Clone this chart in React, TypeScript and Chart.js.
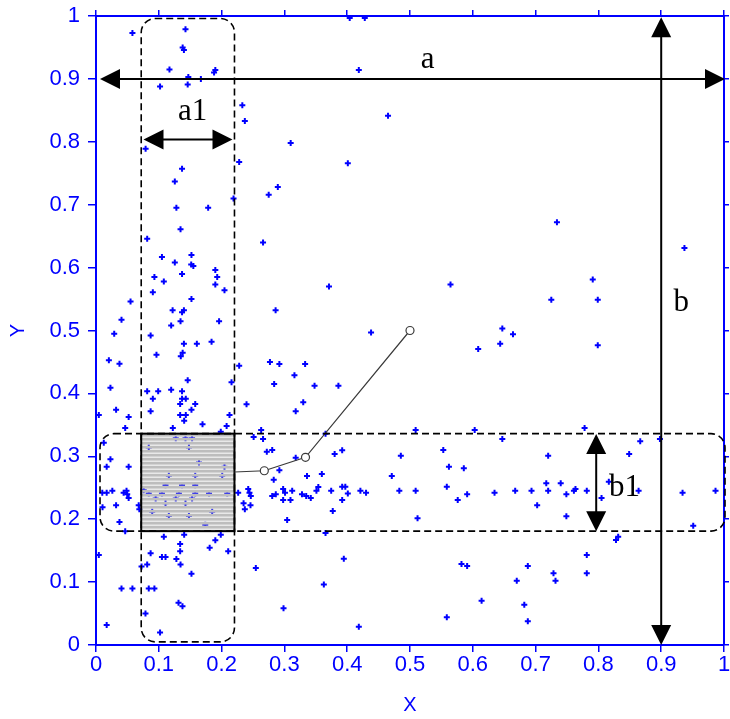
import React, { useEffect, useRef } from 'react';
import { Chart, registerables } from 'chart.js';

Chart.register(...registerables);

// ---- data ----
const pointX = [
  0.058, 0.1425, 0.138, 0.140, 0.117, 0.147, 0.167, 0.188, 0.190, 0.102, 0.146, 0.233, 0.237, 0.310, 0.079, 0.228,
  0.137, 0.1255, 0.2895, 0.275, 0.219, 0.128, 0.1786, 0.1346, 0.0815, 0.266, 0.371, 0.105, 0.152, 0.1255, 0.1516, 0.155,
  0.137, 0.190, 0.193, 0.093, 0.108, 0.190, 0.2046, 0.0905, 0.055, 0.152, 0.122, 0.137, 0.140, 0.286, 0.0406, 0.1346,
  0.1197, 0.196, 0.029, 0.087, 0.404, 0.428,
  0.4185, 0.465, 0.401, 0.734, 0.937, 0.791, 0.725, 0.799, 0.5645, 0.647, 0.438,
  0.6436, 0.664, 0.6086, 0.799, 0.386, 0.509, 0.603, 0.778, 0.647, 0.898, 0.8666, 0.380, 0.392, 0.4854, 0.553, 0.720,
  0.849, 0.562, 0.5857, 0.471, 0.3745, 0.392, 0.397, 0.401, 0.392, 0.421, 0.430, 0.483, 0.509, 0.5586, 0.576, 0.591,
  0.6346, 0.6675, 0.6935, 0.7025, 0.717, 0.720, 0.740, 0.749, 0.761, 0.7635, 0.7815, 0.749, 0.805, 0.8166, 0.864, 0.934,
  0.9865, 0.951, 0.512, 0.377, 0.828, 0.8315, 0.3946, 0.582, 0.591, 0.6876, 0.7815, 0.7285, 0.7317, 0.7815, 0.670, 0.614,
  0.682, 0.6876, 0.5586, 0.4185,
  0.140, 0.1606, 0.184, 0.138, 0.135, 0.0963, 0.0205, 0.0374, 0.228, 0.277, 0.292, 0.333, 0.316, 0.2837, 0.348, 0.146,
  0.2158, 0.023, 0.0815, 0.099, 0.1197, 0.137, 0.0905, 0.137, 0.143, 0.134, 0.158, 0.087, 0.152, 0.032, 0.0045, 0.052,
  0.134, 0.143, 0.1404, 0.2126, 0.330, 0.318, 0.1696, 0.208, 0.1223, 0.0465, 0.1987, 0.263, 0.251, 0.266, 0.3655, 0.272,
  0.2806, 0.0124, 0.023, 0.017, 0.052, 0.318, 0.292, 0.336, 0.3596, 0.283, 0.010, 0.017, 0.026, 0.044, 0.0486, 0.0497,
  0.052, 0.0104, 0.032, 0.068, 0.069, 0.0374, 0.0465, 0.2264, 0.2424, 0.2444, 0.2465, 0.235, 0.246, 0.237, 0.2806, 0.2863,
  0.298, 0.301, 0.3124, 0.298, 0.3097, 0.328, 0.3347, 0.342, 0.351, 0.354, 0.3655, 0.3044, 0.1404, 0.108, 0.190, 0.1987,
  0.134, 0.181, 0.134, 0.2105, 0.087, 0.105, 0.1107, 0.128, 0.1346, 0.0815, 0.0725, 0.0045, 0.2545, 0.152, 0.0406, 0.058,
  0.084, 0.093, 0.3628, 0.1314, 0.1377, 0.0788, 0.2986, 0.017, 0.102, 0.2397,
  0.127, 0.1425, 0.153, 0.084, 0.148, 0.2046, 0.164, 0.116, 0.158, 0.201, 0.1107, 0.137, 0.158, 0.084, 0.105, 0.132,
  0.158, 0.180, 0.209, 0.095, 0.127, 0.153, 0.1107, 0.1425, 0.0895, 0.185, 0.116, 0.148, 0.174, 0.076,
];
const pointY = [
  0.973, 0.979, 0.950, 0.946, 0.915, 0.903, 0.900, 0.910, 0.914, 0.888, 0.891, 0.858, 0.833, 0.798, 0.789, 0.768,
  0.757, 0.737, 0.728, 0.716, 0.710, 0.695, 0.695, 0.661, 0.646, 0.640, 0.570, 0.617, 0.620, 0.608, 0.605, 0.6026,
  0.590, 0.596, 0.585, 0.585, 0.578, 0.573, 0.564, 0.561, 0.546, 0.550, 0.532, 0.529, 0.532, 0.532, 0.517, 0.5146,
  0.508, 0.5146, 0.495, 0.492, 0.997, 0.997,
  0.914, 0.8415, 0.766, 0.672, 0.631, 0.581, 0.549, 0.549, 0.573, 0.503, 0.497,
  0.479, 0.494, 0.4706, 0.4765, 0.412, 0.342, 0.342, 0.345, 0.3275, 0.3275, 0.324, 0.3036, 0.3095, 0.301, 0.310, 0.301,
  0.3036, 0.2835, 0.281, 0.2687, 0.2453, 0.2517, 0.2517, 0.241, 0.2305, 0.2453, 0.242, 0.2453, 0.2453, 0.2517, 0.2305, 0.2396,
  0.242, 0.2453, 0.2453, 0.222, 0.257, 0.2453, 0.257, 0.2396, 0.2453, 0.248, 0.2453, 0.2046, 0.2337, 0.2596, 0.2453, 0.242,
  0.2453, 0.1897, 0.2014, 0.213, 0.167, 0.172, 0.137, 0.1288, 0.1256, 0.1256, 0.143, 0.114, 0.102, 0.114, 0.102, 0.0705,
  0.064, 0.0376, 0.044, 0.029,
  0.479, 0.479, 0.482, 0.4647, 0.459, 0.4615, 0.4526, 0.447, 0.444, 0.450, 0.4467, 0.4467, 0.429, 0.415, 0.412, 0.4208,
  0.4176, 0.409, 0.4033, 0.4033, 0.406, 0.4033, 0.3916, 0.3916, 0.3916, 0.383, 0.383, 0.3715, 0.374, 0.374, 0.3657, 0.3625,
  0.3657, 0.3657, 0.3566, 0.3657, 0.386, 0.3715, 0.351, 0.348, 0.345, 0.345, 0.339, 0.342, 0.3307, 0.3275, 0.336, 0.3073,
  0.310, 0.3216, 0.2952, 0.2835, 0.2835, 0.2978, 0.2777, 0.2687, 0.2719, 0.2628, 0.242, 0.242, 0.2453, 0.242, 0.2453, 0.2396,
  0.2337, 0.219, 0.222, 0.222, 0.216, 0.1955, 0.181, 0.242, 0.248, 0.242, 0.2369, 0.2253, 0.222, 0.216, 0.2369, 0.2396,
  0.248, 0.242, 0.2453, 0.2305, 0.2305, 0.2396, 0.2369, 0.2337, 0.2453, 0.251, 0.178, 0.1987, 0.1753, 0.172, 0.1665, 0.1753,
  0.1606, 0.1547, 0.149, 0.149, 0.1458, 0.140, 0.140, 0.1367, 0.128, 0.128, 0.125, 0.143, 0.1224, 0.1134, 0.090, 0.090,
  0.090, 0.090, 0.096, 0.0673, 0.0615, 0.050, 0.0583, 0.0318, 0.020, 0.3827,
  0.3286, 0.3286, 0.3286, 0.314, 0.314, 0.2835, 0.290, 0.269, 0.269, 0.269, 0.254, 0.254, 0.254, 0.241, 0.241, 0.241,
  0.241, 0.241, 0.241, 0.233, 0.233, 0.233, 0.2253, 0.2253, 0.212, 0.212, 0.205, 0.205, 0.191, 0.246,
];

const tickValues = [0, 0.1, 0.2, 0.3, 0.4, 0.5, 0.6, 0.7, 0.8, 0.9, 1];
const tickLabels = ['0', '0.1', '0.2', '0.3', '0.4', '0.5', '0.6', '0.7', '0.8', '0.9', '1'];

// path of the moving centre (box edge, then three circle markers)
const pathX = [0.2205, 0.268, 0.3336, 0.5];
const pathY = [0.275, 0.277, 0.2984, 0.5];

// annotation geometry, in data units
const columnBox = { x0: 0.072, x1: 0.2205, y0: 0.005, y1: 0.996 };
const rowBox = { x0: 0.0064, x1: 1.0016, y0: 0.181, y1: 0.336 };
const shadedBox = { x0: 0.072, x1: 0.2205, y0: 0.181, y1: 0.336 };
const arrowA = { x0: 0.0064, x1: 1.0016, y: 0.9 };
const arrowA1 = { x0: 0.0756, x1: 0.2174, y: 0.8037 };
const arrowB = { x: 0.9, y0: 0.998, y1: 0.0 };
const arrowB1 = { x: 0.7965, y0: 0.3355, y1: 0.181 };
const labels = [
  { text: 'a', x: 0.528, y: 0.93 },
  { text: 'a1', x: 0.154, y: 0.847 },
  { text: 'b', x: 0.932, y: 0.5437 },
  { text: 'b1', x: 0.8417, y: 0.2496 },
];

const BLUE = '#0000ff';
const TICK_FONT = { family: '"Liberation Sans", Arial, sans-serif', size: 22 };

function arrowHead(ctx: CanvasRenderingContext2D, tx: number, ty: number, dx: number, dy: number) {
  const len = 20;
  const half = 10;
  const n = Math.hypot(dx, dy);
  const ux = dx / n, uy = dy / n;
  const bx = tx - ux * len, by = ty - uy * len;
  ctx.beginPath();
  ctx.moveTo(tx, ty);
  ctx.lineTo(bx - uy * half, by + ux * half);
  ctx.lineTo(bx + uy * half, by - ux * half);
  ctx.closePath();
  ctx.fill();
}

function doubleArrow(ctx: CanvasRenderingContext2D, x1: number, y1: number, x2: number, y2: number) {
  ctx.beginPath();
  const n = Math.hypot(x2 - x1, y2 - y1);
  const ux = (x2 - x1) / n, uy = (y2 - y1) / n;
  ctx.moveTo(x1 + ux * 10, y1 + uy * 10);
  ctx.lineTo(x2 - ux * 10, y2 - uy * 10);
  ctx.stroke();
  arrowHead(ctx, x1, y1, x1 - x2, y1 - y2);
  arrowHead(ctx, x2, y2, x2 - x1, y2 - y1);
}

const annotationPlugin = {
  id: 'annotations',
  afterDatasetsDraw(chart: any) {
    const { ctx, scales } = chart;
    const px = (v: number) => scales.x.getPixelForValue(v);
    const py = (v: number) => scales.y.getPixelForValue(v);
    ctx.save();

    // shaded box (stripes over the points)
    const L = px(shadedBox.x0), R = px(shadedBox.x1), T = py(shadedBox.y1), B = py(shadedBox.y0);
    ctx.fillStyle = '#bdbdbd';
    for (let yy = T; yy < B; yy += 4) {
      ctx.fillRect(L, yy, R - L, Math.min(3, B - yy));
    }
    ctx.strokeStyle = '#000';
    ctx.lineWidth = 2;
    ctx.strokeRect(L, T, R - L, B - T);

    // path with circle markers
    ctx.strokeStyle = '#3a3a3a';
    ctx.lineWidth = 1.2;
    ctx.beginPath();
    pathX.forEach((vx, i) => {
      const X = px(vx), Y = py(pathY[i]);
      if (i === 0) ctx.moveTo(X, Y); else ctx.lineTo(X, Y);
    });
    ctx.stroke();
    for (let i = 1; i < pathX.length; i++) {
      ctx.beginPath();
      ctx.arc(px(pathX[i]), py(pathY[i]), 4, 0, Math.PI * 2);
      ctx.fillStyle = '#fff';
      ctx.fill();
      ctx.stroke();
    }

    // dashed rounded boxes
    ctx.setLineDash([7, 4]);
    ctx.lineWidth = 1.6;
    ctx.strokeStyle = '#000';
    [columnBox, rowBox].forEach((b) => {
      const l = px(b.x0), r = px(b.x1), t = py(b.y1), bt = py(b.y0);
      ctx.beginPath();
      (ctx as any).roundRect(l, t, r - l, bt - t, 14);
      ctx.stroke();
    });
    ctx.setLineDash([]);

    // arrows
    ctx.lineWidth = 2;
    ctx.strokeStyle = '#000';
    ctx.fillStyle = '#000';
    doubleArrow(ctx, px(arrowA.x0), py(arrowA.y), px(arrowA.x1), py(arrowA.y));
    doubleArrow(ctx, px(arrowA1.x0), py(arrowA1.y), px(arrowA1.x1), py(arrowA1.y));
    doubleArrow(ctx, px(arrowB.x), py(arrowB.y0), px(arrowB.x), py(arrowB.y1));
    doubleArrow(ctx, px(arrowB1.x), py(arrowB1.y0), px(arrowB1.x), py(arrowB1.y1));

    // labels
    ctx.font = '31px "Liberation Serif", "Times New Roman", serif';
    ctx.textAlign = 'center';
    ctx.textBaseline = 'middle';
    ctx.fillStyle = '#000';
    labels.forEach((lb) => ctx.fillText(lb.text, px(lb.x), py(lb.y)));

    ctx.restore();
  },
};

const setTicks = (s: any) => {
  s.ticks = tickValues.map((v) => ({ value: v }));
};

export default function App() {
  const ref = useRef<HTMLCanvasElement>(null);

  useEffect(() => {
    if (!ref.current) return;
    const chart = new Chart(ref.current, {
      type: 'scatter',
      data: {
        datasets: [
          {
            data: pointX.map((x, i) => ({ x, y: pointY[i] })),
            pointStyle: 'cross',
            pointRadius: 3,
            borderWidth: 2,
            borderColor: BLUE,
            backgroundColor: BLUE,
          },
        ],
      },
      options: {
        responsive: false,
        animation: false,
        events: [],
        layout: { padding: 0 },
        plugins: { legend: { display: false }, tooltip: { enabled: false } },
        scales: {
          x: {
            type: 'linear',
            position: 'bottom',
            min: 0,
            max: 1,
            afterBuildTicks: setTicks,
            afterFit: (s: any) => { s.height = 74; s.paddingLeft = 0; s.paddingRight = 0; },
            ticks: {
              callback: (_v: any, i: number) => tickLabels[i],
              color: BLUE,
              font: TICK_FONT,
              padding: 0,
              maxRotation: 0,
              autoSkip: false,
            },
            grid: { drawOnChartArea: false, drawTicks: true, tickLength: 7, color: BLUE, lineWidth: 1.5 },
            border: { color: BLUE, width: 2 },
            title: {
              display: true,
              text: 'X',
              color: BLUE,
              font: { family: '"Liberation Sans", Arial, sans-serif', size: 20 },
              padding: { top: 0, bottom: 2 },
            },
          },
          x2: {
            type: 'linear',
            position: 'top',
            min: 0,
            max: 1,
            afterBuildTicks: setTicks,
            afterFit: (s: any) => { s.height = 16; s.paddingLeft = 0; s.paddingRight = 0; },
            ticks: { display: false },
            grid: { drawOnChartArea: false, drawTicks: true, tickLength: 6, color: BLUE, lineWidth: 1.5 },
            border: { color: BLUE, width: 2 },
          },
          y: {
            type: 'linear',
            position: 'left',
            min: 0,
            max: 1,
            afterBuildTicks: setTicks,
            afterFit: (s: any) => { s.width = 96; s.paddingTop = 0; s.paddingBottom = 0; },
            ticks: {
              callback: (_v: any, i: number) => tickLabels[i],
              color: BLUE,
              font: TICK_FONT,
              padding: 8,
              autoSkip: false,
            },
            grid: { drawOnChartArea: false, drawTicks: true, tickLength: 8, color: BLUE, lineWidth: 1.5 },
            border: { color: BLUE, width: 2 },
            title: {
              display: true,
              text: 'Y',
              color: BLUE,
              font: { family: '"Liberation Sans", Arial, sans-serif', size: 20 },
              padding: { top: 6, bottom: 0 },
            },
          },
          y2: {
            type: 'linear',
            position: 'right',
            min: 0,
            max: 1,
            afterBuildTicks: setTicks,
            afterFit: (s: any) => { s.width = 6; s.paddingTop = 0; s.paddingBottom = 0; },
            ticks: { display: false },
            grid: { drawOnChartArea: false, drawTicks: true, tickLength: 5, color: BLUE, lineWidth: 1.5 },
            border: { color: BLUE, width: 2 },
          },
        },
      },
      plugins: [annotationPlugin],
    });
    return () => chart.destroy();
  }, []);

  return (
    <div style={{ position: 'fixed', left: 0, top: 0, width: 730, height: 719, background: '#fff' }}>
      <canvas ref={ref} width={730} height={719} style={{ display: 'block' }} />
    </div>
  );
}
